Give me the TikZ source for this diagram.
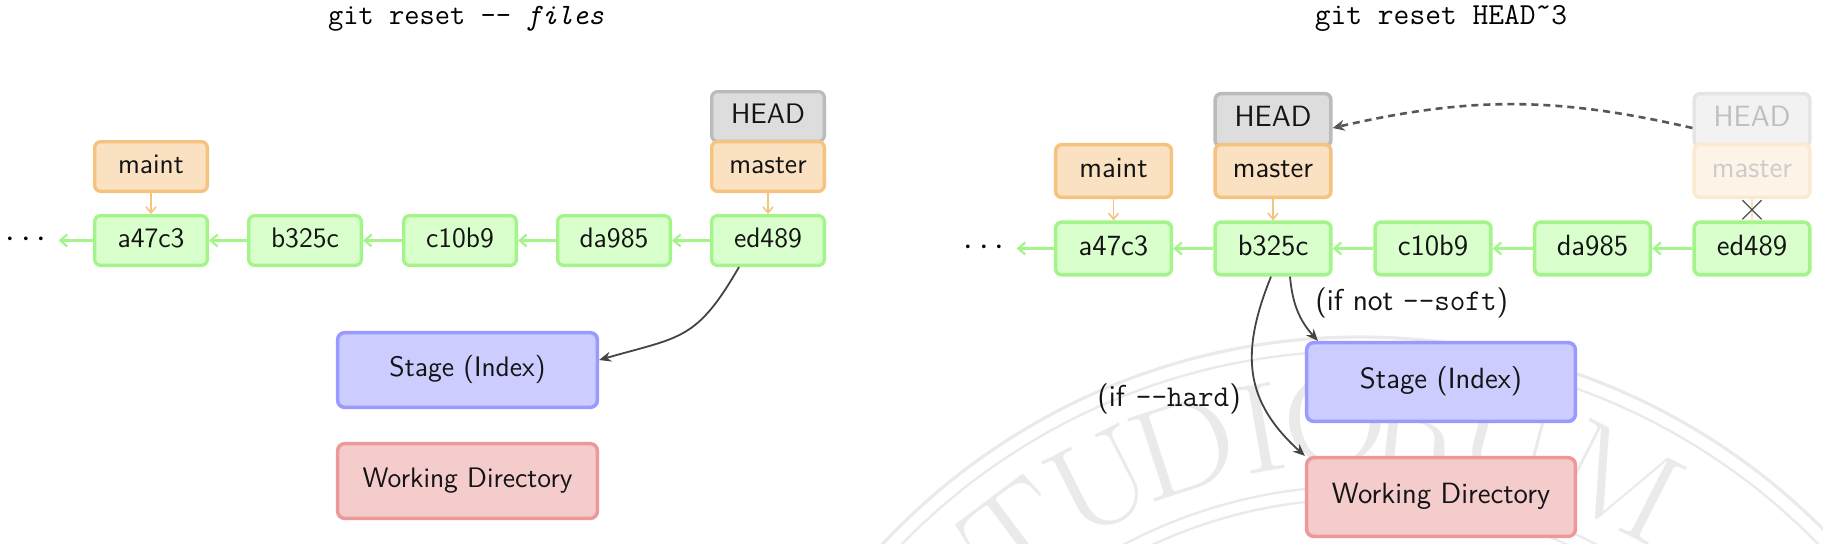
\documentclass[tikz,border=0pt]{standalone}
\usetikzlibrary{arrows.meta,shapes.misc}
\definecolor{cgreen}{HTML}{A3F58A}
\definecolor{cgreenf}{HTML}{D9FFCC}
\definecolor{corange}{HTML}{F5C37D}
\definecolor{corangef}{HTML}{FAE1C1}
\definecolor{cgray}{HTML}{BBBBBB}
\definecolor{cgrayf}{HTML}{DDDDDD}
\definecolor{cblue}{HTML}{9999FF}
\definecolor{cbluef}{HTML}{CCCCFF}
\definecolor{cred}{HTML}{EE9999}
\definecolor{credf}{HTML}{F5CCCC}
\definecolor{cdark}{HTML}{444444}
\definecolor{cwm}{HTML}{EAEAEA}
\newcommand\fontLeftBox{\fontsize{14.1pt}{17pt}\selectfont\sffamily}
\newcommand\fontRightBox{\fontsize{14.65pt}{17.5pt}\selectfont\sffamily}
\newcommand\fontEdgeLbl{\fontsize{15.1pt}{18pt}\selectfont\sffamily}
\tikzset{
  basebox/.style={rectangle, rounded corners=3pt, inner sep=0pt, line width=1.65pt,
    minimum width=56.35pt, minimum height=24.85pt, text height=0.69em, text depth=0pt,
    font=\fontLeftBox, text=black!92},
  rbox/.style={line width=1.75pt, minimum width=57.85pt, minimum height=26.35pt, font=\fontRightBox},
  commit/.style={basebox, draw=cgreen, fill=cgreenf},
  branch/.style={basebox, draw=corange, fill=corangef},
  headbox/.style={basebox, draw=cgray, fill=cgrayf},
  fadedhead/.style={basebox, draw=black!10, fill=black!5, text=black!25},
  fadedbranch/.style={basebox, draw=corange!35, fill=corangef!40, text=black!20},
  zonebox/.style={rectangle, rounded corners=3.5pt, inner sep=0pt, line width=1.75pt,
    minimum width=129.85pt, minimum height=37.35pt, text height=0.69em, text depth=0pt,
    font=\fontLeftBox, text=black!92},
  rzone/.style={minimum width=134.35pt, minimum height=39.35pt, font=\fontRightBox},
  stagebox/.style={zonebox, draw=cblue, fill=cbluef},
  wdbox/.style={zonebox, draw=cred, fill=credf},
  parentarrow/.style={draw=cgreen, line width=1.1pt, -{Straight Barb[length=3.5pt,width=6pt]}},
  refarrow/.style={draw=corange, line width=0.8pt, -{Straight Barb[length=3pt,width=5pt]}},
  flowarrow/.style={draw=cdark, line width=0.9pt, -{Stealth[length=6pt,width=5pt,inset=2pt]}},
  movedarrow/.style={draw=cdark!90, line width=1.3pt, dash pattern=on 3.5pt off 2.5pt,
    -{Stealth[length=6pt,width=5.5pt,inset=2pt]}},
  ttl/.style={anchor=base, inner sep=0pt},
  dotsnode/.style={font=\fontsize{16pt}{18pt}\selectfont, anchor=base, inner sep=0pt},
  lbl/.style={font=\fontEdgeLbl, anchor=base west, inner sep=0pt, text=black!92},
  wmletter/.style={text=cwm, font=\fontsize{64pt}{64pt}\selectfont, anchor=base, inner sep=0pt},
}
\begin{document}
\begin{tikzpicture}[x=0.5pt,y=-0.5pt]
\useasboundingbox (0,0) rectangle (1823,543);

% watermark
\begin{scope}
\clip (0,0) rectangle (1823,543);
\draw[cwm, line width=1.6pt] (1360,991) circle[radius=327pt];
\draw[cwm, line width=1.2pt] (1360,991) circle[radius=320pt];
\draw[cwm, line width=1.2pt] (1360,991) circle[radius=252.5pt];
\draw[cwm, line width=1.2pt] (1360,991) circle[radius=246pt];
\foreach \a/\L [count=\i] in {-37/T,-27/U,-18/D,-10/I,-2.5/O,6/R,15/U,27/M}
  \node[wmletter, rotate={0-(\a)}] (wm\i) at ({1360+528*sin(\a)},{991-528*cos(\a)}) {\scalebox{1.15}[1]{\L}};
\end{scope}

% ---------------- left panel ----------------
\node[ttl, font=\fontsize{14.8pt}{17pt}\selectfont\ttfamily] (titleL) at (466,24) {git reset -{}- \textit{files}};

\node[commit] (La) at (151,240.5) {a47c3};
\node[commit] (Lb) at (305,240.5) {b325c};
\node[commit] (Lc) at (460,240.5) {c10b9};
\node[commit] (Ld) at (614,240.5) {da985};
\node[commit] (Le) at (768,240.5) {ed489};
\node[branch] (Lmaint) at (151,166.5) {maint};
\node[headbox] (Lhead) at (768,116.5) {HEAD};
\node[branch] (Lmaster) at (768,166.5) {master};
\node[dotsnode] (Ldots) at (26,247) {$\cdots$};

\draw[parentarrow] (Lb) -- (La);
\draw[parentarrow] (Lc) -- (Lb);
\draw[parentarrow] (Ld) -- (Lc);
\draw[parentarrow] (Le) -- (Ld);
\draw[parentarrow] (La) -- ([xshift=6pt]La.west -| Ldots.east);
\draw[refarrow] (Lmaint) -- (La);
\draw[refarrow] (Lmaster) -- (Le);

\node[stagebox] (Lstage) at (467.5,370) {Stage (Index)};
\node[wdbox] (Lwd) at (467.5,481) {Working Directory};
\draw[flowarrow] ([xshift=-14.5pt]Le.south) to[out=-120,in=16,looseness=1.3] ([yshift=5pt]Lstage.east);

% ---------------- right panel ----------------
\node[ttl, font=\fontsize{15.3pt}{18pt}\selectfont\ttfamily] (titleR) at (1441,24) {git reset HEAD\symbol{"02DC}3};

\node[commit,rbox] (Ra) at (1113.5,248.5) {a47c3};
\node[commit,rbox] (Rb) at (1273,248.5) {b325c};
\node[commit,rbox] (Rc) at (1433,248.5) {c10b9};
\node[commit,rbox] (Rd) at (1592.5,248.5) {da985};
\node[commit,rbox] (Re) at (1752,248.5) {ed489};
\node[branch,rbox] (Rmaint) at (1113.5,171) {maint};
\node[headbox,rbox] (Rhead) at (1273,120) {HEAD};
\node[branch,rbox] (Rmaster) at (1273,171) {master};
\node[fadedhead,rbox] (RoldHead) at (1752,120) {HEAD};
\node[fadedbranch,rbox] (RoldMaster) at (1752,171) {master};
\node[dotsnode] (Rdots) at (984,255) {$\cdots$};

\draw[parentarrow] (Rb) -- (Ra);
\draw[parentarrow] (Rc) -- (Rb);
\draw[parentarrow] (Rd) -- (Rc);
\draw[parentarrow] (Re) -- (Rd);
\draw[parentarrow] (Ra) -- ([xshift=6pt]Ra.west -| Rdots.east);
\draw[refarrow] (Rmaint) -- (Ra);
\draw[refarrow] (Rmaster) -- (Rb);
\draw[draw=corange!45, line width=0.8pt] (RoldMaster) -- (Re)
  node[midway, cross out, draw=black!70, line width=0.6pt, minimum size=9pt, inner sep=0pt] (Rcross) {};
\draw[movedarrow] ([yshift=-4pt]RoldHead.west) to[out=167,in=13,looseness=1.0] ([yshift=-4pt]Rhead.east);

\node[stagebox,rzone] (Rstage) at (1441,382) {Stage (Index)};
\node[wdbox,rzone] (Rwd) at (1441,497) {Working Directory};
\draw[flowarrow] ([xshift=8.5pt]Rb.south) to[out=-85,in=132] ([xshift=6.5pt]Rstage.north west);
\draw[flowarrow] ([xshift=-1pt]Rb.south) to[out=-112,in=138,looseness=1.15] (Rwd.north west);
\node[lbl] (Lsoft) at (1315,310) {(if not \texttt{-{}-soft})};
\node[lbl] (Lhard) at (1097,406) {(if \texttt{-{}-hard})};
\end{tikzpicture}
\end{document}
